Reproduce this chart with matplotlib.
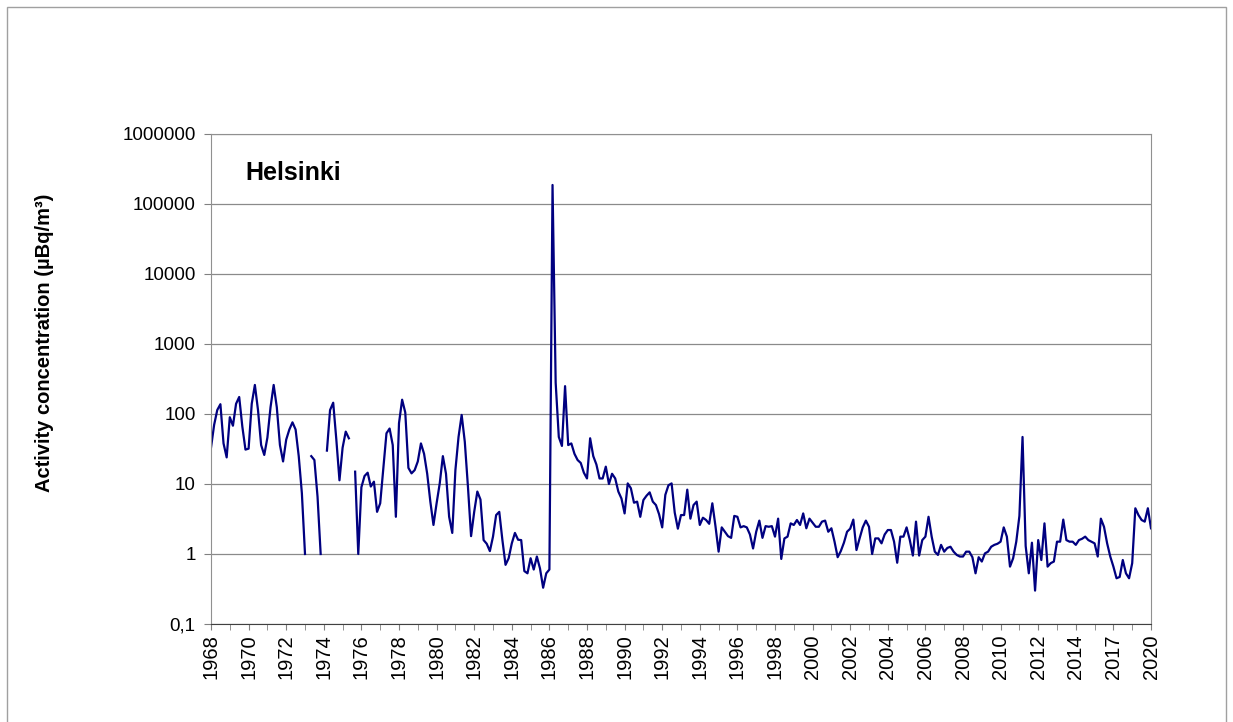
import numpy as np
import matplotlib.pyplot as plt
from matplotlib.patches import Rectangle

# activity in air, Helsinki; one value per category (bimonthly up to 2014, quarterly after)
activity = [
    33, 70, 114, 138, 38, 24, 90, 68, 140, 175, 66, 31, 32,
    140, 260, 114, 36, 26, 46, 125, 260, 125, 36, 21, 43, 60, 76, 60, 25, 7.4, 1.0,
    np.nan, 25, 22, 6.6, 1.0, np.nan, 30, 114, 145, 43, 11.3,
    33, 56, 45, np.nan, 15, 1.0, 9, 13, 14.5, 9.2, 10.8, 4.0, 5.3, 17, 53, 62, 36,
    3.4, 74, 160, 105, 17, 14.2, 15.8, 21, 38, 27, 14, 5.6, 2.6, 5.3, 10.2, 25, 14,
    3.4, 2.0, 15.8, 47, 97, 40, 9.2, 1.8, 4.0,
    7.8, 6.0, 1.58, 1.4, 1.1, 1.77, 3.6, 4.0, 1.58, 0.70, 0.87, 1.42, 2.0, 1.6, 1.58,
    0.57, 0.53, 0.87, 0.6, 0.92, 0.62,
    0.33, 0.53, 0.6, 187000, 280, 47, 35, 250, 36, 38, 27, 22, 20, 14.5, 12, 45, 25,
    19, 12, 12, 17.7, 10, 14, 12, 7.8, 6.2, 3.8,
    10.2, 8.7, 5.4, 5.6, 3.4, 5.9, 6.8, 7.6, 5.6, 5.0, 3.7, 2.4, 7.0, 9.6, 10.2, 3.9,
    2.3, 3.6, 3.6, 8.3, 3.2, 5.0, 5.6, 2.6,
    3.3, 3.06, 2.7, 5.3, 2.5, 1.08, 2.4, 2.08, 1.8, 1.7, 3.5, 3.4, 2.4, 2.5, 2.4, 1.9,
    1.2, 2.08, 3.0, 1.7, 2.5, 2.45, 2.5, 1.77,
    3.2, 0.85, 1.67, 1.77, 2.74, 2.6, 3.06, 2.6, 3.8, 2.33, 3.2, 2.8, 2.45, 2.45, 2.9,
    3.0, 2.08, 2.33, 1.5, 0.9, 1.1, 1.45, 2.08, 2.3,
    3.1, 1.14, 1.67, 2.4, 3.0, 2.45, 1.0, 1.67, 1.67, 1.42, 1.9, 2.2, 2.2, 1.5, 0.75,
    1.77, 1.77, 2.4, 1.6, 0.95, 2.9, 0.95, 1.58, 1.77,
    3.4, 1.77, 1.08, 0.97, 1.35, 1.08, 1.22, 1.27, 1.08, 0.97, 0.92, 0.92, 1.08, 1.08,
    0.9, 0.53, 0.9, 0.78, 1.02, 1.08, 1.27, 1.35, 1.4, 1.5,
    2.4, 1.77, 0.66, 0.87, 1.5, 3.5, 47, 1.3, 0.53, 1.45, 0.3, 1.58, 0.82, 2.74, 0.66,
    0.74, 0.78, 1.5, 1.5, 3.1, 1.58, 1.5, 1.5, 1.35,
    1.58, 1.65, 1.77, 1.58, 1.5, 1.42, 0.92, 3.2, 2.45, 1.42, 0.92, 0.66, 0.45, 0.47,
    0.82, 0.53, 0.45, 0.74, 4.5, 3.6, 3.06, 2.9, 4.5, 2.33,
]

year_labels = [str(y) for y in range(1968, 2015, 2)] + ['2017', '2020']
per_label = 12  # categories between two year labels

y_ticks = [0.1, 1, 10, 100, 1000, 10000, 100000, 1000000]
y_tick_labels = ['0,1', '1', '10', '100', '1000', '10000', '100000', '1000000']

plt.rcParams['font.family'] = ['Liberation Sans', 'DejaVu Sans']

fig = plt.figure(figsize=(12.33, 7.22), dpi=100)
ax = fig.add_axes([211 / 1233, 1 - 624 / 722, 940 / 1233, 490 / 722])

x = np.arange(len(activity))
ax.plot(x, activity, color='#000080', lw=1.6)

ax.set_yscale('log')
ax.set_ylim(0.1, 1e6)
ax.set_yticks(y_ticks)
ax.set_yticklabels(y_tick_labels)
ax.yaxis.set_minor_locator(plt.NullLocator())

ax.set_xlim(0, len(activity) - 1)
ax.set_xticks(np.arange(len(year_labels)) * per_label)
ax.set_xticklabels(year_labels, rotation=90)
ax.set_xticks(np.arange(per_label // 2, len(activity) - 1, per_label), minor=True)

ax.grid(axis='y', color='#8a8a8a', lw=0.9)
ax.set_axisbelow(True)
for side in ['left', 'top', 'right']:
    ax.spines[side].set_color('#909090')
ax.spines['bottom'].set_color('#404040')
ax.tick_params(axis='both', which='both', colors='#808080', labelcolor='black')
ax.tick_params(axis='x', which='both', length=4.5, pad=3, labelsize=14.5)
ax.tick_params(axis='y', length=5, pad=6, labelsize=13.5)

ax.text(245 / 1233, 1 - 180 / 722, 'Helsinki', transform=fig.transFigure,
        fontsize=18, fontweight='bold', va='baseline', ha='left')
fig.text(45 / 1233, 1 - 343 / 722, 'Activity concentration (µBq/m³)', rotation=90,
         fontsize=14.5, fontweight='bold', va='center', ha='center')

fig.patches.append(Rectangle((7 / 1233, -0.05), 1219 / 1233, 1.05 - 7 / 722,
                             transform=fig.transFigure, fill=False,
                             edgecolor='#a0a0a0', lw=1))

fig.savefig('out.png', dpi=100)
